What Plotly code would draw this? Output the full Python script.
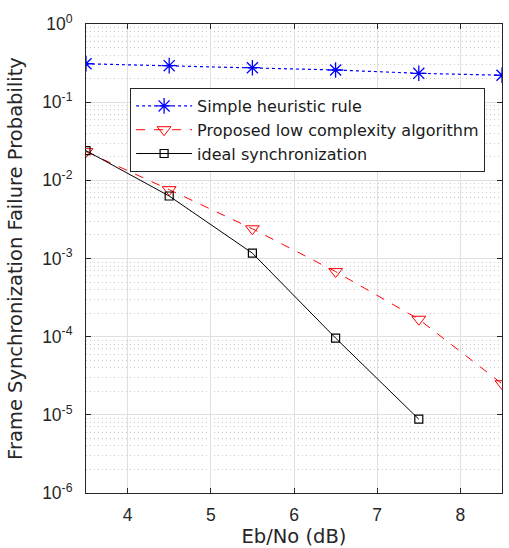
import plotly.graph_objects as go

ebno = [3.5, 4.5, 5.5, 6.5, 7.5, 8.5]
heuristic = [0.31, 0.293, 0.276, 0.258, 0.234, 0.221]
proposed = [0.0233, 0.0076, 0.0024, 6.8e-4, 1.67e-4, 2.5e-5]
ideal_x = [3.5, 4.5, 5.5, 6.5, 7.5]
ideal = [0.024, 0.0063, 0.00117, 9.6e-5, 8.8e-6]

ytickvals = [1e-6, 1e-5, 1e-4, 1e-3, 1e-2, 1e-1, 1]
yticktext = ["10<sup>-6</sup>", "10<sup>-5</sup>", "10<sup>-4</sup>", "10<sup>-3</sup>",
             "10<sup>-2</sup>", "10<sup>-1</sup>", "10<sup>0</sup>"]
xtickvals = [4, 5, 6, 7, 8]

FAM = "Liberation Sans, Arial, sans-serif"
WIDE = "DejaVu Sans, Verdana, sans-serif"

fig = go.Figure()
fig.add_trace(go.Scatter(
    x=ebno, y=heuristic, name="Simple heuristic rule", mode="lines+markers",
    line=dict(color="#0000ff", width=1.2, dash="dot"),
    marker=dict(symbol="asterisk-open", size=13, color="#0000ff", line=dict(width=1.3, color="#0000ff"))))
fig.add_trace(go.Scatter(
    x=ebno, y=proposed, name="Proposed low complexity algorithm", mode="lines+markers",
    line=dict(color="#ff0000", width=1, dash="dash"),
    marker=dict(symbol="triangle-down-open", size=12, color="#ff0000", line=dict(width=1, color="#ff0000"))))
fig.add_trace(go.Scatter(
    x=ideal_x, y=ideal, name="ideal synchronization", mode="lines+markers",
    line=dict(color="#000000", width=1),
    marker=dict(symbol="square-open", size=8, color="#000000", line=dict(width=1.2, color="#000000"))))

tickfont = dict(family=FAM, size=17.5, color="#262626")
titlefont = dict(family=WIDE, size=19.5, color="#262626")
fig.update_layout(
    width=509, height=548,
    margin=dict(l=86, r=7, t=24, b=55),
    paper_bgcolor="white", plot_bgcolor="white",
    font=dict(family=FAM, size=15, color="#262626"),
    showlegend=True,
    legend=dict(x=0.106, y=0.8635, xanchor="left", yanchor="top",
                bgcolor="white", bordercolor="#262626", borderwidth=1,
                font=dict(family=WIDE, size=16, color="#1a1a1a"),
                tracegroupgap=0, itemwidth=56),
    xaxis=dict(range=[3.5, 8.5], tickvals=xtickvals, ticks="inside", ticklen=5,
               tickcolor="#262626", showline=True, linecolor="#262626", linewidth=1,
               mirror="ticks", showgrid=True, gridcolor="#e0e0e0", gridwidth=1,
               zeroline=False, ticklabelstandoff=6, automargin=False,
               title=dict(text="Eb/No (dB)", standoff=5, font=titlefont),
               tickfont=tickfont),
    yaxis=dict(type="log", range=[-6, 0], tickvals=ytickvals, ticktext=yticktext,
               ticks="inside", ticklen=5, tickcolor="#262626",
               showline=True, linecolor="#262626", linewidth=1, mirror="ticks",
               showgrid=True, gridcolor="#e0e0e0", gridwidth=1, zeroline=False,
               ticklabelstandoff=9, automargin=False,
               minor=dict(showgrid=True, gridcolor="#cccccc", griddash="1px,3px", gridwidth=1,
                          ticks="", dtick="D1"),
               title=dict(text="Frame Synchronization Failure Probability", standoff=14,
                          font=titlefont),
               tickfont=tickfont),
)
fig.write_html("out.html")
